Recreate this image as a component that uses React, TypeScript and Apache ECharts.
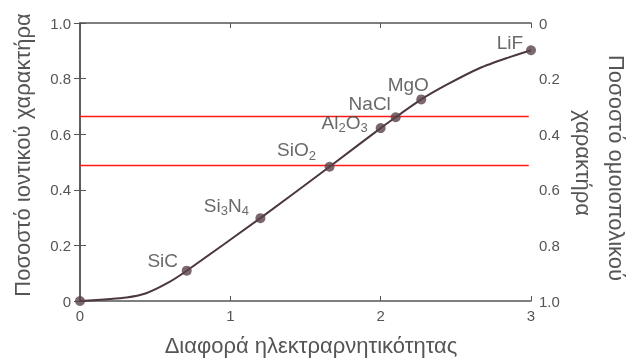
import React, { useEffect, useRef } from "react";
import * as echarts from "echarts";

// Compound markers: [electronegativity difference, ionic fraction]
const compoundNames = ["SiC", "Si3N4", "SiO2", "Al2O3", "NaCl", "MgO", "LiF"];
const compoundX = [0.71, 1.2, 1.66, 2.0, 2.1, 2.27, 3.0];
const compoundY = [0.109, 0.298, 0.483, 0.622, 0.661, 0.725, 0.902];
const compoundLabels = [
  "SiC",
  "Si{sub|3}N{sub|4}",
  "SiO{sub|2}",
  "Al{sub|2}O{sub|3}",
  "NaCl",
  "MgO",
  "LiF",
];
const labelOffsets: [number, number][] = [
  [-24, -10],
  [-34, -13],
  [-33, -17],
  [-36, -6],
  [-26, -14],
  [-13, -15],
  [-21, -8],
];

// Curve points
const curveX = [0, 0.31, 0.44, 0.58, 0.71, 1.2, 1.66, 2.0, 2.1, 2.27, 2.44, 2.66, 2.84, 3.0];
const curveY = [0, 0.013, 0.028, 0.064, 0.109, 0.298, 0.483, 0.622, 0.661, 0.725, 0.778, 0.838, 0.874, 0.902];

// Red horizontal reference lines
const redLevels = [0.664, 0.487];
const redEndX = 2.985;

const xTicks = [0, 1, 2, 3];

const FONT = "'Liberation Sans', Arial, sans-serif";
const GRAY = "#555";

export default function App() {
  const ref = useRef<HTMLDivElement>(null);

  useEffect(() => {
    if (!ref.current) return;
    const chart = echarts.init(ref.current, null, { renderer: "svg" });
    const fmt = (v: number) => (v === 0 ? "0" : v.toFixed(1));

    const option: any = {
      animation: false,
      textStyle: { fontFamily: FONT },
      grid: { left: 80, right: 97, top: 23, bottom: 57 },
      xAxis: [
        {
          type: "value",
          position: "bottom",
          min: xTicks[0],
          max: xTicks[xTicks.length - 1],
          interval: 1,
          axisLine: { show: true, lineStyle: { color: GRAY, width: 1.5 } },
          axisTick: { show: true, inside: true, length: 5, lineStyle: { color: GRAY } },
          axisLabel: { color: GRAY, fontSize: 15, margin: 7, fontFamily: FONT },
          splitLine: { show: false },
        },
        {
          type: "value",
          position: "top",
          min: 0,
          max: 3,
          interval: 1,
          axisLine: { show: true, lineStyle: { color: GRAY, width: 1.5 } },
          axisTick: { show: true, inside: true, length: 5, lineStyle: { color: GRAY } },
          axisLabel: { show: false },
          splitLine: { show: false },
        },
      ],
      yAxis: [
        {
          type: "value",
          position: "left",
          min: 0,
          max: 1,
          interval: 0.2,
          axisLine: { show: true, lineStyle: { color: GRAY, width: 1.5 } },
          axisTick: { show: true, inside: false, length: 6, lineStyle: { color: GRAY } },
          axisLabel: { color: GRAY, fontSize: 15, margin: 9, formatter: fmt, fontFamily: FONT },
          splitLine: { show: false },
        },
        {
          type: "value",
          position: "right",
          inverse: true,
          min: 0,
          max: 1,
          interval: 0.2,
          axisLine: { show: true, lineStyle: { color: GRAY, width: 1.5 } },
          axisTick: { show: true, inside: false, length: 6, lineStyle: { color: GRAY } },
          axisLabel: { color: GRAY, fontSize: 15, margin: 8, formatter: fmt, fontFamily: FONT },
          splitLine: { show: false },
        },
      ],
      series: [
        ...redLevels.map((lv) => ({
          type: "line",
          xAxisIndex: 0,
          yAxisIndex: 0,
          data: [
            [0, lv],
            [redEndX, lv],
          ],
          showSymbol: false,
          symbol: "none",
          lineStyle: { color: "#ff1a1a", width: 1.5 },
          z: 1,
        })),
        {
          type: "line",
          xAxisIndex: 0,
          yAxisIndex: 0,
          data: curveX.map((x, i) => [x, curveY[i]]),
          smooth: 0.2,
          showSymbol: false,
          symbol: "none",
          lineStyle: { color: "#4a383e", width: 2 },
          z: 2,
        },
        {
          type: "scatter",
          xAxisIndex: 0,
          yAxisIndex: 0,
          symbolSize: 10,
          itemStyle: { color: "#5a4249" },
          z: 3,
          data: [[0, 0]],
        },
        {
          type: "scatter",
          xAxisIndex: 0,
          yAxisIndex: 0,
          symbolSize: 10,
          itemStyle: { color: "#5a4249" },
          z: 3,
          data: compoundX.map((x, i) => ({
            value: [x, compoundY[i]],
            name: compoundNames[i],
            label: {
              show: true,
              position: "inside",
              offset: labelOffsets[i],
              formatter: compoundLabels[i],
              align: "center",
              verticalAlign: "middle",
              color: "#444",
              fontSize: 19,
              fontFamily: FONT,
              rich: {
                sub: {
                  fontSize: 13,
                  color: "#444",
                  fontFamily: FONT,
                  padding: [11, 0, 0, 0],
                },
              },
            },
          })),
        },
      ],
      graphic: [
        {
          type: "text",
          x: 22,
          y: 155,
          rotation: Math.PI / 2,
          style: {
            text: "Ποσοστό ιοντικού χαρακτήρα",
            fill: GRAY,
            font: `22px ${FONT}`,
            textAlign: "center",
            textVerticalAlign: "middle",
          },
        },
        {
          type: "text",
          x: 616,
          y: 168,
          rotation: -Math.PI / 2,
          style: {
            text: "Ποσοστό ομοιοπολικού",
            fill: GRAY,
            font: `22px ${FONT}`,
            textAlign: "center",
            textVerticalAlign: "middle",
          },
        },
        {
          type: "text",
          x: 583,
          y: 163,
          rotation: -Math.PI / 2,
          style: {
            text: "χαρακτήρα",
            fill: GRAY,
            font: `22px ${FONT}`,
            textAlign: "center",
            textVerticalAlign: "middle",
          },
        },
        {
          type: "text",
          x: 311,
          y: 345,
          style: {
            text: "Διαφορά ηλεκτραρνητικότητας",
            fill: GRAY,
            font: `22px ${FONT}`,
            textAlign: "center",
            textVerticalAlign: "middle",
          },
        },
      ],
    };

    chart.setOption(option);
    return () => chart.dispose();
  }, []);

  return (
    <div
      ref={ref}
      style={{ position: "fixed", left: 0, top: 0, width: 628, height: 358 }}
    />
  );
}
